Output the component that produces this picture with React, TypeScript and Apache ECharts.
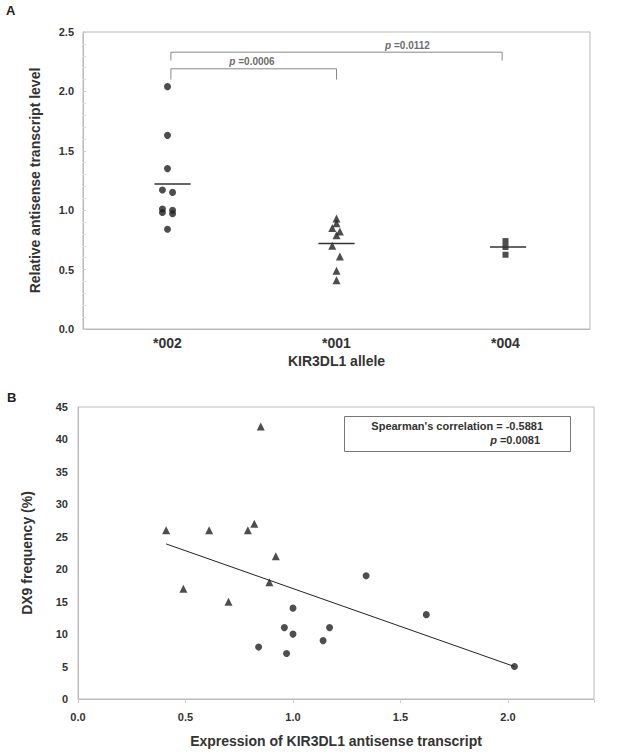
import React, { useEffect, useRef } from "react";
import * as echarts from "echarts";

// ---------- Panel A data ----------
const alleles = ["*002", "*001", "*004"];
const allele002 = [2.04, 1.63, 1.35, 1.17, 1.15, 1.01, 0.98, 1.0, 0.97, 0.84];
const jitter002 = [0, 0, 0, -0.03, 0.03, -0.03, -0.03, 0.03, 0.03, 0];
const allele001 = [0.93, 0.89, 0.85, 0.82, 0.79, 0.7, 0.61, 0.49, 0.41];
const jitter001 = [0, 0, -0.025, 0.02, 0, -0.025, 0.02, 0, 0];
const allele004 = [0.74, 0.69, 0.625];
const jitter004 = [0, 0, 0];
const groupMeans = [1.22, 0.72, 0.69];
const yTicksA = [0, 0.5, 1.0, 1.5, 2.0, 2.5];

// significance brackets (group indices, bracket height, foot height)
const bracketPairs = [
  [0, 1],
  [0, 2],
];
const bracketTops = [2.19, 2.33];
const bracketFeet = [2.1, 2.26];
const bracketP = ["0.0006", "0.0112"];
const bracketLabelX = [0.5, 1.42];
const bracketLabelY = [2.255, 2.39];

// ---------- Panel B data ----------
const triX = [0.41, 0.49, 0.61, 0.7, 0.79, 0.82, 0.85, 0.89, 0.92];
const triY = [26, 17, 26, 15, 26, 27, 42, 18, 22];
const dotX = [1.0, 0.96, 1.0, 0.84, 0.97, 1.34, 1.62, 1.17, 1.14, 2.03];
const dotY = [14, 11, 10, 8, 7, 19, 13, 11, 9, 5];
const trendX = [0.41, 2.03];
const trendY = [23.9, 5.0];
const spearmanR = "-0.5881";
const spearmanP = "0.0081";

const FONT = "'Liberation Sans', Arial, Helvetica, sans-serif";
const TXT = "#333";
const MARK = "#222";
const GRAYLINE = "#bbb";

export default function App() {
  const ref = useRef<HTMLDivElement>(null);

  useEffect(() => {
    if (!ref.current) return;
    const chart = echarts.init(ref.current, undefined, { renderer: "svg" });

    const pRich = {
      i: { fontStyle: "italic", fontWeight: "bold", fontSize: 10, fontFamily: FONT, color: "#444" },
      b: { fontWeight: "bold", fontSize: 10, fontFamily: FONT, color: "#444" },
    };

    const groupsData = [
      { vals: allele002, jit: jitter002, symbol: "circle", size: 7 },
      { vals: allele001, jit: jitter001, symbol: "triangle", size: 8 },
      { vals: allele004, jit: jitter004, symbol: "rect", size: 6 },
    ];

    const seriesA: any[] = [];
    groupsData.forEach((g, gi) => {
      seriesA.push({
        type: "scatter",
        xAxisIndex: 0,
        yAxisIndex: 0,
        symbol: g.symbol,
        symbolSize: g.size,
        itemStyle: { color: MARK },
        data: g.vals.map((v, i) => [gi + g.jit[i], v]),
        z: 3,
      });
    });
    groupMeans.forEach((m, gi) => {
      const off = gi === 0 ? 0.03 : gi === 2 ? 0.015 : 0;
      seriesA.push({
        type: "line",
        xAxisIndex: 0,
        yAxisIndex: 0,
        symbol: "none",
        lineStyle: { color: "#333", width: 1.6 },
        data: [
          [gi - 0.107 + off, m],
          [gi + 0.107 + off, m],
        ],
        z: 4,
      });
    });
    bracketPairs.forEach((pair, bi) => {
      const [a, b] = pair;
      seriesA.push({
        type: "line",
        xAxisIndex: 0,
        yAxisIndex: 0,
        symbol: "none",
        lineStyle: { color: "#888", width: 1 },
        data: [
          [a + 0.02, bracketFeet[bi]],
          [a + 0.02, bracketTops[bi]],
          [b - (b === 2 ? 0.02 : 0), bracketTops[bi]],
          [b - (b === 2 ? 0.02 : 0), bracketFeet[bi]],
        ],
      });
      seriesA.push({
        type: "scatter",
        xAxisIndex: 0,
        yAxisIndex: 0,
        symbolSize: 2,
        itemStyle: { color: "rgba(0,0,0,0)" },
        label: {
          show: true,
          position: "inside",
          formatter: "{i|p}{b| =" + bracketP[bi] + "}",
          rich: pRich,
        },
        data: [[bracketLabelX[bi], bracketLabelY[bi]]],
      });
    });

    const seriesB: any[] = [
      {
        type: "line",
        xAxisIndex: 1,
        yAxisIndex: 1,
        symbol: "none",
        lineStyle: { color: "#222", width: 1 },
        data: trendX.map((x, i) => [x, trendY[i]]),
        z: 2,
      },
      {
        type: "scatter",
        xAxisIndex: 1,
        yAxisIndex: 1,
        symbol: "triangle",
        symbolSize: 8,
        itemStyle: { color: MARK },
        data: triX.map((x, i) => [x, triY[i]]),
        z: 3,
      },
      {
        type: "scatter",
        xAxisIndex: 1,
        yAxisIndex: 1,
        symbol: "circle",
        symbolSize: 7,
        itemStyle: { color: MARK },
        data: dotX.map((x, i) => [x, dotY[i]]),
        z: 3,
      },
    ];

    const labelStyle = { color: TXT, fontWeight: "bold", fontFamily: FONT, fontSize: 11 };
    const nameStyle = { color: TXT, fontWeight: "bold", fontFamily: FONT, fontSize: 14 };

    chart.setOption({
      animation: false,
      backgroundColor: "#fff",
      textStyle: { fontFamily: FONT },
      grid: [
        { left: 83, top: 32, width: 507, height: 297, show: true, borderColor: GRAYLINE, borderWidth: 1 },
        { left: 78, top: 407, width: 516, height: 292, show: true, borderColor: GRAYLINE, borderWidth: 1 },
      ],
      xAxis: [
        {
          type: "value",
          gridIndex: 0,
          min: -0.5,
          max: 2.5,
          interval: 0.5,
          axisLine: { show: true, onZero: false, lineStyle: { color: GRAYLINE } },
          axisTick: { show: false },
          splitLine: { show: false },
          axisLabel: {
            ...labelStyle,
            fontSize: 14,
            margin: 7,
            formatter: (v: number) => {
              const r = Math.round(v);
              return Math.abs(v - r) < 1e-6 && r >= 0 && r < alleles.length ? alleles[r] : "";
            },
          },
          name: "KIR3DL1 allele",
          nameLocation: "middle",
          nameGap: 25,
          nameTextStyle: nameStyle,
        },
        {
          type: "value",
          gridIndex: 1,
          min: 0,
          max: 2.4,
          interval: 0.5,
          axisLine: { show: true, onZero: false, lineStyle: { color: GRAYLINE } },
          axisTick: { show: true, length: 4, lineStyle: { color: "#ccc" } },
          splitLine: { show: false },
          axisLabel: {
            ...labelStyle,
            margin: 12,
            formatter: (v: number) =>
              Math.abs(v * 2 - Math.round(v * 2)) < 1e-6 ? v.toFixed(1) : "",
          },
          name: "Expression of KIR3DL1 antisense transcript",
          nameLocation: "middle",
          nameGap: 35,
          nameTextStyle: nameStyle,
        },
      ],
      yAxis: [
        {
          type: "value",
          gridIndex: 0,
          min: yTicksA[0],
          max: yTicksA[yTicksA.length - 1],
          interval: 0.5,
          axisLine: { show: true, onZero: false, lineStyle: { color: GRAYLINE } },
          axisTick: { show: true, inside: true, length: 3, lineStyle: { color: "#ccc" } },
          minorTick: { show: true, splitNumber: 5, length: 3, lineStyle: { color: "#ddd" } },
          splitLine: { show: false },
          axisLabel: { ...labelStyle, margin: 9, formatter: (v: number) => v.toFixed(1) },
          name: "Relative antisense transcript level",
          nameLocation: "middle",
          nameGap: 41,
          nameTextStyle: nameStyle,
        },
        {
          type: "value",
          gridIndex: 1,
          min: 0,
          max: 45,
          interval: 5,
          axisLine: { show: true, onZero: false, lineStyle: { color: GRAYLINE } },
          axisTick: { show: false },
          splitLine: { show: false },
          axisLabel: { ...labelStyle, margin: 10 },
          name: "DX9 frequency (%)",
          nameLocation: "middle",
          nameGap: 44,
          nameTextStyle: nameStyle,
        },
      ],
      graphic: [
        {
          type: "text",
          left: 6,
          top: 4,
          style: { text: "A", font: `bold 13px ${FONT}`, fill: "#222" },
        },
        {
          type: "text",
          left: 7,
          top: 391,
          style: { text: "B", font: `bold 13px ${FONT}`, fill: "#222" },
        },
        {
          type: "rect",
          shape: { x: 344.5, y: 416.5, width: 226, height: 35 },
          style: { fill: "#fff", stroke: "#777", lineWidth: 1 },
          z: 10,
        },
        {
          type: "text",
          x: 543,
          y: 426,
          z: 11,
          style: {
            text: "Spearman's correlation = " + spearmanR,
            align: "right",
            verticalAlign: "middle",
            font: `bold 11px ${FONT}`,
            fill: TXT,
          },
        },
        {
          type: "text",
          x: 540,
          y: 440,
          z: 11,
          style: {
            text: "{i|p}{b| =" + spearmanP + "}",
            align: "right",
            verticalAlign: "middle",
            rich: {
              i: { fontStyle: "italic", fontWeight: "bold", fontSize: 11, fontFamily: FONT, fill: TXT },
              b: { fontWeight: "bold", fontSize: 11, fontFamily: FONT, fill: TXT },
            },
          },
        },
      ],
      series: [...seriesA, ...seriesB],
    });

    return () => chart.dispose();
  }, []);

  return (
    <div
      ref={ref}
      style={{ position: "fixed", left: 0, top: 0, width: 631, height: 756, background: "#fff" }}
    />
  );
}
